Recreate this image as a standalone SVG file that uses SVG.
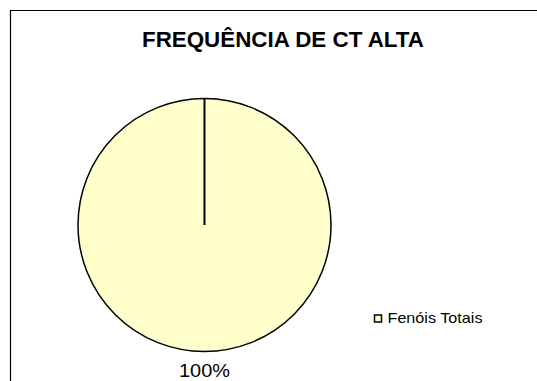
<svg xmlns="http://www.w3.org/2000/svg" width="537" height="381" viewBox="0 0 537 381">
<style>
.t{font-family:"Liberation Sans",Arial,sans-serif;fill:#000}
</style>
<rect x="0" y="0" width="537" height="381" fill="#fff"/>
<path d="M10.5,381 V10.5 H537" fill="none" stroke="#000" stroke-width="1.2"/>
<text class="t" x="283" y="47" font-size="22" font-weight="bold" text-anchor="middle" textLength="282" lengthAdjust="spacingAndGlyphs">FREQUÊNCIA DE CT ALTA</text>
<g id="pie">
<circle cx="204.5" cy="225" r="126.5" fill="#FFFFCC" stroke="#000" stroke-width="1.5"/>
</g>
<g id="connectors">
<line x1="204.5" y1="98.5" x2="204.5" y2="225" stroke="#000" stroke-width="2"/>
</g>
<g id="legend">
<rect x="374.5" y="315" width="7" height="7" fill="#FFFFCC" stroke="#000" stroke-width="1.5"/>
<text class="t" x="387.5" y="323" font-size="14.5" textLength="95" lengthAdjust="spacingAndGlyphs">Fenóis Totais</text>
</g>
<text class="t" x="204.5" y="377" font-size="18" text-anchor="middle" textLength="51" lengthAdjust="spacingAndGlyphs">100%</text>
</svg>
